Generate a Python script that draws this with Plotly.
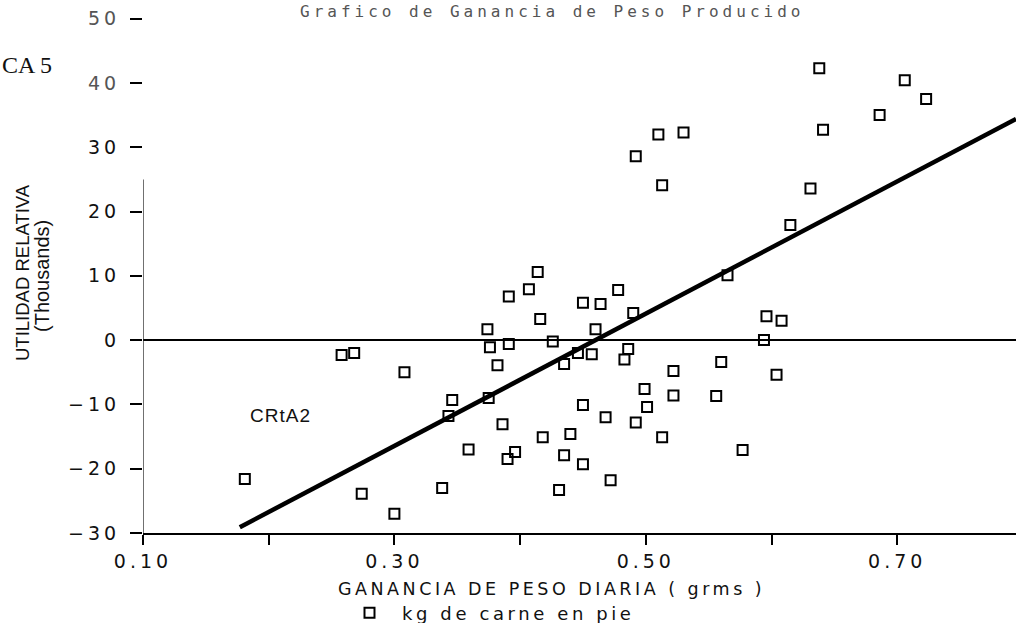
import plotly.graph_objects as go

# Ganancia de peso diaria (kg) vs utilidad relativa (miles)
ganancia = [
    0.181, 0.258, 0.268, 0.308, 0.274, 0.300, 0.338, 0.346, 0.343, 0.359,
    0.374, 0.376, 0.382, 0.375, 0.386, 0.391, 0.390, 0.396, 0.416, 0.418,
    0.426, 0.414, 0.407, 0.391, 0.450, 0.464, 0.478, 0.490, 0.460, 0.446,
    0.457, 0.435, 0.450, 0.440, 0.435, 0.450, 0.431, 0.472, 0.468, 0.492,
    0.501, 0.499, 0.486, 0.483, 0.513, 0.522, 0.522, 0.556, 0.560, 0.577,
    0.594, 0.596, 0.608, 0.604, 0.565, 0.615, 0.631, 0.513, 0.492, 0.510,
    0.530, 0.638, 0.641, 0.686, 0.706, 0.723,
]
utilidad = [
    -21.6, -2.3, -2.0, -5.0, -23.9, -27.0, -23.0, -9.3, -11.8, -17.0,
    1.7, -1.1, -3.9, -9.0, -13.1, -0.6, -18.5, -17.4, 3.3, -15.1,
    -0.2, 10.6, 7.9, 6.8, 5.8, 5.6, 7.8, 4.2, 1.7, -2.0,
    -2.2, -3.7, -10.1, -14.6, -17.9, -19.3, -23.3, -21.8, -12.0, -12.8,
    -10.4, -7.6, -1.4, -3.0, -15.1, -8.6, -4.8, -8.7, -3.4, -17.1,
    0.0, 3.7, 3.0, -5.4, 10.1, 17.9, 23.6, 24.1, 28.6, 32.0,
    32.3, 42.3, 32.7, 35.0, 40.4, 37.5,
]

# Recta de tendencia (extremos)
tendencia_x = [0.177, 0.7945]
tendencia_y = [-29.1, 34.4]

x_ticks = [0.10, 0.20, 0.30, 0.40, 0.50, 0.60, 0.70]
x_labels = ["0.10", "", "0.30", "", "0.50", "", "0.70"]
y_ticks = [-30, -20, -10, 0, 10, 20, 30, 40, 50]
y_labels = ["\u221230", "\u221220", "\u221210", "0", "10", "20", "30", "40", "50"]

X_RANGE = [0.10, 0.7945]
Y_RANGE = [-30, 52.9]

# Plot area geometry (pixels) used for paper-placed text
L, T, W, H = 143, 0, 873, 533


def px(xp):
    return (xp - L) / W


def py(yp):
    return (T + H - yp) / H


def spaced(s, ls=3.5, color=None):
    st = f"letter-spacing:{ls}px"
    if color:
        st += f";color:{color}"
    return f'<span style="{st}">{s}</span>' if s else ""


TICK_FONT = dict(family="DejaVu Sans", size=19, color="#111")

fig = go.Figure()

fig.add_trace(go.Scatter(
    x=tendencia_x, y=tendencia_y, mode="lines",
    line=dict(color="black", width=4.5),
    showlegend=False, hoverinfo="skip",
))

fig.add_trace(go.Scatter(
    x=ganancia, y=utilidad, mode="markers",
    name=spaced("kg de carne en pie", 3.6),
    marker=dict(symbol="square-open", size=10, color="black",
                line=dict(color="black", width=2)),
    showlegend=True,
))

# Vertical axis line (fades out near the top)
fig.add_shape(type="line", xref="x", yref="y",
              x0=X_RANGE[0], x1=X_RANGE[0], y0=-30, y1=25,
              line=dict(color="#222", width=1.3))

fig.update_xaxes(
    range=X_RANGE, tickmode="array", tickvals=x_ticks,
    ticktext=[spaced(t, 4) for t in x_labels],
    ticks="outside", ticklen=10, tickwidth=2, tickcolor="black",
    showline=True, linecolor="black", linewidth=2,
    showgrid=False, zeroline=False, tickfont=TICK_FONT,
    automargin=False,
)
fig.update_yaxes(
    range=Y_RANGE, tickmode="array", tickvals=y_ticks,
    ticktext=[spaced(t, 4, "#555" if v >= 40 else None)
              for t, v in zip(y_labels, y_ticks)],
    ticks="outside", ticklen=12, tickwidth=1.5, tickcolor="black",
    ticklabelstandoff=6,
    showline=False, showgrid=False,
    zeroline=True, zerolinecolor="black", zerolinewidth=1.5,
    tickfont=TICK_FONT, automargin=False,
)

annotations = [
    dict(text=spaced("Grafico de Ganancia de Peso Producido", 4),
         x=px(552), y=py(11), xref="paper", yref="paper",
         xanchor="center", yanchor="middle", showarrow=False,
         font=dict(family="DejaVu Sans Mono", size=16, color="#555")),
    dict(text="CA 5", x=px(0), y=py(65), xref="paper", yref="paper",
         xanchor="left", yanchor="middle", showarrow=False,
         font=dict(family="Liberation Serif", size=24, color="#111")),
    dict(text="UTILIDAD RELATIVA", x=px(22), y=py(273),
         xref="paper", yref="paper", textangle=-90,
         xanchor="center", yanchor="middle", showarrow=False,
         font=dict(family="Liberation Sans", size=18.5, color="#111")),
    dict(text="(Thousands)", x=px(42), y=py(276),
         xref="paper", yref="paper", textangle=-90,
         xanchor="center", yanchor="middle", showarrow=False,
         font=dict(family="Liberation Sans", size=20, color="#111")),
    dict(text=spaced("GANANCIA DE PESO DIARIA ( grms )", 3.5),
         x=px(551), y=py(589), xref="paper", yref="paper",
         xanchor="center", yanchor="middle", showarrow=False,
         font=dict(family="DejaVu Sans", size=17.5, color="#111")),
    dict(text=spaced("CRtA2", 1), x=px(280), y=py(415),
         xref="paper", yref="paper",
         xanchor="center", yanchor="middle", showarrow=False,
         font=dict(family="Liberation Sans", size=19, color="#111")),
]

fig.update_layout(
    width=1016, height=623,
    margin=dict(l=L, r=0, t=T, b=623 - H - T, autoexpand=False),
    paper_bgcolor="white", plot_bgcolor="white",
    annotations=annotations,
    legend=dict(x=px(337), y=py(613), xanchor="left", yanchor="middle",
                bgcolor="rgba(0,0,0,0)",
                font=dict(family="DejaVu Sans", size=18, color="#111"),
                itemwidth=55),
    showlegend=True,
)

fig.write_html("out.html")
